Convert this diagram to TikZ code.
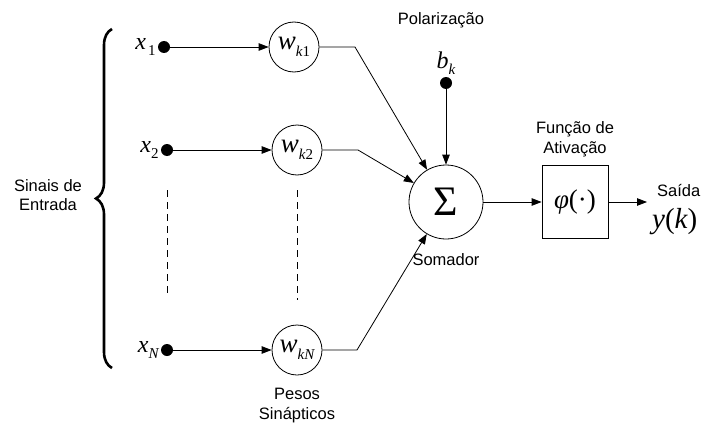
\documentclass[tikz,border=0pt]{standalone}
\usepackage{fontspec}
\setmainfont{Liberation Sans}
\newfontfamily\symfont{Liberation Serif}
\usepackage{tikz}
\usetikzlibrary{arrows.meta,positioning,calc,decorations.pathreplacing}
\newcommand{\symsize}{\symfont\fontsize{27}{30}\selectfont}
\newcommand{\capsize}{\fontsize{16.5}{19.5}\selectfont}
\newcommand{\sub}[1]{\raisebox{-0.26em}{\fontsize{15}{15}\selectfont #1}}
\newcommand{\iv}[1]{{\itshape #1}}
\tikzset{
  weight/.style={circle, draw, line width=0.8pt, minimum size=50pt, inner sep=0pt, font=\symsize},
  summer/.style={circle, draw, line width=0.8pt, minimum size=74pt, inner sep=0pt, font=\symfont\fontsize{42}{44}\selectfont},
  actbox/.style={rectangle, draw, line width=0.8pt, minimum width=66pt, minimum height=73pt, inner sep=0pt, font=\symsize},
  inputdot/.style={circle, fill=black, minimum size=12pt, inner sep=0pt},
  sym/.style={inner sep=1pt, font=\symfont\fontsize{24}{28}\selectfont},
  caption/.style={inner sep=1pt, align=center, font=\capsize},
  flow/.style={-{Triangle[length=10pt,width=7.5pt]}, line width=0.8pt},
  gap/.style={line width=0.8pt, dash pattern=on 7pt off 5pt},
  bigbrace/.style={decorate, decoration={brace, amplitude=16pt}, line width=2.6pt},
}

\begin{document}
\begin{tikzpicture}[x=1pt, y=-1pt]
  \useasboundingbox (0,0) rectangle (706,428);
  % inputs
  \node[inputdot] (x1) at (164,47) {};
  \node[inputdot] (x2) at (167,150) {};
  \node[inputdot] (xN) at (167,350) {};
  \node[sym, left=1pt of x1] (x1lab) {\iv{x}\kern2pt\sub{1}};
  \node[sym, left=1pt of x2] (x2lab) {\iv{x}\sub{2}};
  \node[sym, left=1pt of xN] (xNlab) {\iv{x}\sub{\iv{N}}};
  % weights
  \node[weight] (w1) at (294,47) {\iv{w}\sub{\iv{k}1}};
  \node[weight] (w2) at (297,150) {\iv{w}\sub{\iv{k}2}};
  \node[weight] (wN) at (297,350) {\iv{w}\sub{\iv{kN}}};
  \node[caption, below=12pt of wN] (pesos) {Pesos\\Sinápticos};
  % summing junction and activation
  \node[summer] (sum) at (446,202) {Σ};
  \node[caption, below=13pt of sum] (soma) {Somador};
  \node[inputdot] (bias) at (446,83) {};
  \node[sym, above=1pt of bias] (bk) {\iv{b}\sub{\iv{k}}};
  \node[caption] (polar) at (441,20) {Polarização};
  \node[actbox] (phi) at (575,202) {\iv{φ}(·)};
  \node[caption, above=7pt of phi] (ativ) {Função de\\Ativação};
  \coordinate (yout) at (647,202);
  \node[caption, anchor=west] (saida) at (656,191) {Saída};
  \node[sym, anchor=west, font=\symfont\fontsize{29}{32}\selectfont] (yk) at (651,222) {\iv{y}(\iv{k})};
  % brace
  \coordinate (brbot) at (112,368);
  \coordinate (brtop) at (112,29);
  \draw[bigbrace] (brbot) -- (brtop);
  \node[caption] (sinais) at (48,195) {Sinais de\\Entrada};
  % connectors
  \draw[flow] (x1) -- (w1);
  \draw[flow] (x2) -- (w2);
  \draw[flow] (xN) -- (wN);
  \draw[flow] (w1) -- ++(61,0) -- (sum);
  \draw[flow] (w2) -- ++(61,0) -- (sum);
  \draw[flow] (wN) -- ++(60,0) -- (sum);
  \draw[flow] (bias) -- (sum);
  \draw[flow] (sum) -- (phi);
  \draw[flow] (phi) -- (yout);
  \draw[gap] ($(x2)+(0,40)$) -- ($(xN)+(0,-53)$);
  \draw[gap] ($(w2)+(0,40)$) -- ($(wN)+(0,-50)$);
\end{tikzpicture}
\end{document}
